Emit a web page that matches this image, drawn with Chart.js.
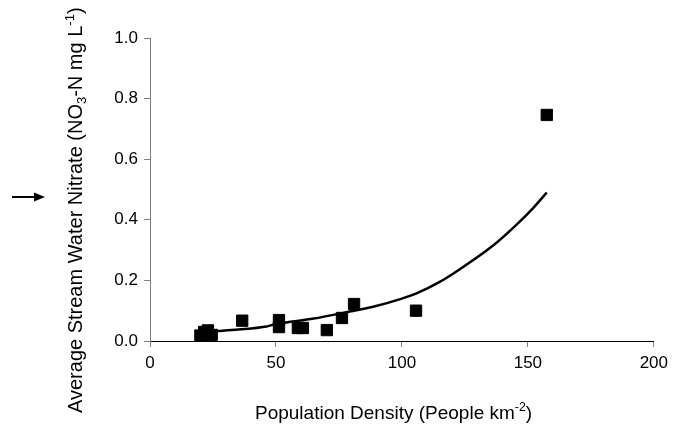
<!DOCTYPE html>
<html>
<head>
<meta charset="utf-8">
<script src="https://cdn.jsdelivr.net/npm/chart.js@4"></script>
<style>
  body { margin: 0; background: #fff; }
  #wrap { width: 674px; height: 426px; }
</style>
</head>
<body>
<div id="wrap"><canvas id="nitrateChart"></canvas></div>
<script>
// measured sites: population density vs. average nitrate
const densityX = [20, 21.5, 23, 24.5, 36.6, 51.2, 51.2, 58.7, 60.7, 70.2, 76.2, 81, 105.6, 157.5];
const nitrateY = [0.018, 0.030, 0.035, 0.020, 0.067, 0.069, 0.046, 0.043, 0.043, 0.036, 0.076, 0.122, 0.100, 0.746];

// exponential trend line
const trendX = [20, 27, 35, 45.6, 50, 65, 78, 88.6, 100, 105.8, 115, 123, 136.2, 145, 152, 157.5];
const trendY = [0.029, 0.033, 0.038, 0.047, 0.056, 0.074, 0.095, 0.113, 0.140, 0.157, 0.195, 0.237, 0.315, 0.38, 0.438, 0.49];

const xTicks = [0, 50, 100, 150, 200];
const yTicks = [0.0, 0.2, 0.4, 0.6, 0.8, 1.0];

const FONT = '"Liberation Sans", Arial, sans-serif';

const points = densityX.map((x, i) => ({ x: x, y: nitrateY[i] }));
const trend = trendX.map((x, i) => ({ x: x, y: trendY[i] }));

// draws text with sub/superscript parts, left to right from (x, y) baseline
function drawRich(ctx, parts, x, y, size) {
    let cx = x;
    parts.forEach(p => {
        let s = size, dy = 0;
        if (p[1] === 'sub') { s = size * 0.65; dy = size * 0.18; }
        if (p[1] === 'sup') { s = size * 0.65; dy = -size * 0.42; }
        ctx.font = s + 'px ' + FONT;
        ctx.fillText(p[0], cx, y + dy);
        cx += ctx.measureText(p[0]).width;
    });
}

const titlesPlugin = {
    id: 'titles',
    afterDraw(chart) {
        const ctx = chart.ctx;
        ctx.save();
        ctx.fillStyle = '#000';
        ctx.textBaseline = 'alphabetic';
        ctx.textAlign = 'left';

        // x axis title
        drawRich(ctx, [['Population Density (People km'], ['-2', 'sup'], [')']], 255, 419, 19);

        // y axis title, rotated
        ctx.save();
        ctx.translate(82, 413);
        ctx.rotate(-Math.PI / 2);
        drawRich(ctx, [['Average Stream Water Nitrate (NO'], ['3', 'sub'], ['-N mg L'], ['-1', 'sup'], [')']], 0, 0, 20);
        ctx.restore();

        // arrow on the left
        ctx.strokeStyle = '#000';
        ctx.lineWidth = 2;
        ctx.beginPath();
        ctx.moveTo(12, 197);
        ctx.lineTo(36, 197);
        ctx.stroke();
        ctx.beginPath();
        ctx.moveTo(45, 197);
        ctx.lineTo(34, 192.5);
        ctx.lineTo(34, 201.5);
        ctx.closePath();
        ctx.fill();
        ctx.restore();
    }
};

const chart = new Chart(document.getElementById('nitrateChart'), {
    type: 'scatter',
    data: {
        datasets: [{
            label: 'Sites',
            data: points,
            pointStyle: 'rect',
            pointRadius: 8,
            pointHoverRadius: 8,
            backgroundColor: '#000',
            borderColor: '#000',
            borderWidth: 1,
            showLine: false,
            order: 1
        }, {
            label: 'Trend',
            data: trend,
            showLine: true,
            borderColor: '#000',
            borderWidth: 2.5,
            pointRadius: 0,
            cubicInterpolationMode: 'monotone',
            fill: false,
            order: 2
        }]
    },
    options: {
        responsive: true,
        maintainAspectRatio: false,
        animation: false,
        layout: { padding: { top: 38, right: 20, bottom: 0, left: 0 } },
        plugins: {
            legend: { display: false },
            tooltip: { enabled: false }
        },
        scales: {
            x: {
                type: 'linear',
                min: 0,
                max: 200,
                afterBuildTicks: s => { s.ticks = xTicks.map(v => ({ value: v })); },
                afterFit: s => { s.height = 85; },
                grid: { display: true, drawOnChartArea: false, drawTicks: true, tickLength: 6, tickColor: '#808080' },
                border: { color: '#000', width: 1 },
                ticks: { color: '#000', padding: 6, maxRotation: 0, font: { family: FONT, size: 17 } }
            },
            y: {
                type: 'linear',
                min: 0,
                max: 1,
                afterBuildTicks: s => { s.ticks = yTicks.map(v => ({ value: v })); },
                afterFit: s => { s.width = 150; },
                grid: { display: true, drawOnChartArea: false, drawTicks: true, tickLength: 6, tickColor: '#808080' },
                border: { color: '#808080', width: 1 },
                ticks: { color: '#000', padding: 6, font: { family: FONT, size: 17 }, callback: v => v.toFixed(1) }
            }
        }
    },
    plugins: [titlesPlugin]
});
</script>
</body>
</html>
